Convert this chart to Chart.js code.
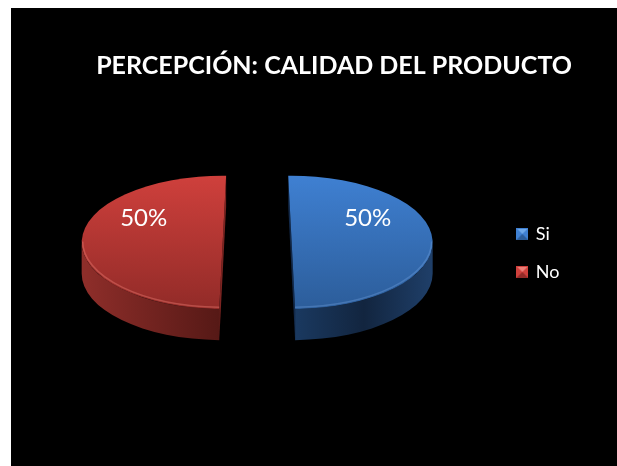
<!DOCTYPE html>
<html lang="es">
<head>
<meta charset="utf-8">
<title>Percepción: calidad del producto</title>
<script src="https://cdn.jsdelivr.net/npm/chart.js@4"></script>
<style>
    html, body { margin: 0; background: #fff; overflow: hidden; }
    #pieChart { position: absolute; left: 11px; top: 8px; background: #000; }
</style>
</head>
<body>
<canvas id="pieChart" width="606" height="458"></canvas>
<script>
// --- DATOS ---
const categories = ['Si', 'No'];
const percentages = [50, 50];
const chartTitle = 'PERCEPCIÓN: CALIDAD DEL PRODUCTO';

// --- COLORES ---
const faceTop = ['#3f80d2', '#cf403c'];
const faceBottom = ['#2c5d9a', '#922b28'];
const sideLeft = ['#1a3960', '#8f2e2a'];
const sideRight = ['#1f3f69', '#561916'];
const cutColor = ['#12294a', '#7c2421'];
const rimColor = ['rgba(130,175,235,.3)', 'rgba(240,130,120,.4)'];

// Perspectiva del pastel
const TILT = 0.473;
const DEPTH = 31;
const FACE_Y = 234.5;
const EXPLODE = 34.5;
const LABEL_DX = [76, -79];
const LABEL_DY = -24;
// Cada porción gira un poco sobre sí misma: los cortes se abren hacia abajo
const TWIST = [-1.4 * Math.PI / 180, 1.4 * Math.PI / 180];

const FONT = 'Lato, "Open Sans", sans-serif';

function sliceGeometry(el, i) {
    const mid = (el.startAngle + el.endAngle) / 2;
    return {
        x: el.x + Math.cos(mid) * EXPLODE,
        y: FACE_Y + Math.sin(mid) * EXPLODE * TILT,
        a: el.outerRadius,
        b: el.outerRadius * TILT,
        start: el.startAngle + TWIST[i],
        end: el.endAngle + TWIST[i],
        mid: mid
    };
}

function rimPoint(g, angle, dy) {
    return [g.x + Math.cos(angle) * g.a, g.y + Math.sin(angle) * g.b + dy];
}

// Parte visible del borde: solo la mitad delantera de la elipse
function frontRange(g) {
    return [Math.max(g.start, 0), Math.min(g.end, Math.PI)];
}

function drawSide(ctx, g, i) {
    const p1 = rimPoint(g, g.start, 0);
    const p2 = rimPoint(g, g.end, 0);
    ctx.fillStyle = cutColor[i];
    ctx.beginPath();
    ctx.moveTo(p1[0], p1[1]);
    ctx.lineTo(p2[0], p2[1]);
    ctx.lineTo(p2[0], p2[1] + DEPTH);
    ctx.lineTo(p1[0], p1[1] + DEPTH);
    ctx.closePath();
    ctx.fill();

    const [from, to] = frontRange(g);
    const xa = rimPoint(g, from, 0)[0];
    const xb = rimPoint(g, to, 0)[0];
    const grad = ctx.createLinearGradient(Math.min(xa, xb), 0, Math.max(xa, xb), 0);
    grad.addColorStop(0, sideLeft[i]);
    if (i === 0) grad.addColorStop(0.5, '#12253f');
    grad.addColorStop(1, sideRight[i]);
    ctx.fillStyle = grad;
    ctx.beginPath();
    ctx.ellipse(g.x, g.y, g.a, g.b, 0, from, to);
    ctx.ellipse(g.x, g.y + DEPTH, g.a, g.b, 0, to, from, true);
    ctx.closePath();
    ctx.fill();
}

// El pastel se dibuja aquí: grosor, cara aplastada, brillo del borde y etiqueta
const pie3d = {
    id: 'pie3d',
    afterLayout(chart) {
        chart.legend.left -= 2.5;
        chart.legend.right -= 2.5;
    },
    beforeDatasetDraw(chart) {
        const ctx = chart.ctx;
        chart.getDatasetMeta(0).data.forEach((el, i) => {
            const g = sliceGeometry(el, i);
            drawSide(ctx, g, i);

            ctx.save();
            ctx.translate(g.x, g.y);
            ctx.scale(1, TILT);
            ctx.rotate(TWIST[i]);
            ctx.translate(-el.x, -el.y);
            el.draw(ctx);
            ctx.restore();

            const [from, to] = frontRange(g);
            ctx.strokeStyle = rimColor[i];
            ctx.lineWidth = 1.5;
            ctx.beginPath();
            ctx.ellipse(g.x, g.y - 1, g.a - 1, g.b - 1, 0, from, to);
            ctx.stroke();

            ctx.fillStyle = '#fff';
            ctx.font = '24px ' + FONT;
            ctx.textAlign = 'center';
            ctx.textBaseline = 'middle';
            ctx.fillText(percentages[i] + '%', g.x + LABEL_DX[i], g.y + LABEL_DY);
        });
        return false;
    }
};

// Cuadrito de la leyenda con relieve
function makeSwatch(i) {
    const c = document.createElement('canvas');
    c.width = 12;
    c.height = 12;
    const s = c.getContext('2d');
    s.fillStyle = faceTop[i];
    s.fillRect(0, 0, 12, 12);
    s.fillStyle = faceBottom[i];
    s.beginPath(); s.moveTo(0, 12); s.lineTo(12, 12); s.lineTo(6, 6); s.closePath(); s.fill();
    s.fillStyle = i === 0 ? '#6ea8ea' : '#ea7f78';
    s.beginPath(); s.moveTo(1, 1); s.lineTo(11, 1); s.lineTo(6, 6); s.closePath(); s.fill();
    return c;
}

function faceGradient(context) {
    const i = context.dataIndex;
    const chart = context.chart;
    if (!chart.chartArea || i === undefined) return faceTop[i || 0];
    const cy = (chart.chartArea.top + chart.chartArea.bottom) / 2;
    const r = chart.options.radius;
    const grad = chart.ctx.createLinearGradient(0, cy - r, 0, cy + r);
    grad.addColorStop(0, faceTop[i]);
    grad.addColorStop(1, faceBottom[i]);
    return grad;
}

new Chart(document.getElementById('pieChart'), {
    type: 'pie',
    plugins: [pie3d],
    data: {
        labels: categories,
        datasets: [{
            data: percentages,
            backgroundColor: faceGradient,
            borderWidth: 0,
            clip: false
        }]
    },
    options: {
        responsive: false,
        animation: false,
        radius: 141,
        layout: { padding: { top: 32, right: 45, left: 3 } },
        plugins: {
            tooltip: { enabled: false },
            title: {
                display: true,
                text: chartTitle,
                align: 'end',
                color: '#fff',
                font: { family: FONT, size: 25, weight: 'bold' },
                padding: { top: 11, bottom: 20 }
            },
            legend: {
                position: 'right',
                labels: {
                    color: '#fff',
                    font: { family: FONT, size: 18 },
                    usePointStyle: true,
                    pointStyleWidth: 9,
                    padding: 20,
                    generateLabels: () => categories.map((name, i) => ({
                        text: name,
                        pointStyle: makeSwatch(i),
                        fontColor: '#fff',
                        lineWidth: 0,
                        index: i
                    }))
                }
            }
        }
    }
});
</script>
</body>
</html>
